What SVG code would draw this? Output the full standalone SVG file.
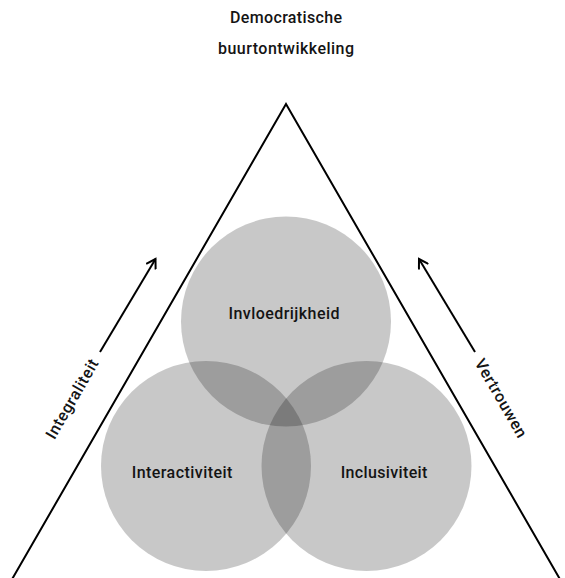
<svg xmlns="http://www.w3.org/2000/svg" width="565" height="578" viewBox="0 0 565 578">
<style>
  .lbl { font-family: Roboto, "Liberation Sans", "DejaVu Sans", sans-serif; font-size: 16px; font-weight: 500; fill: #141414; text-anchor: middle; }
  .circ { fill: #000; fill-opacity: 0.216; }
  .edge { fill: none; stroke: #000; stroke-width: 2; }
</style>
<defs>
  <marker id="arr" viewBox="0 0 12 12" refX="10" refY="6" markerWidth="12" markerHeight="12" markerUnits="userSpaceOnUse" orient="auto">
    <path d="M1,0.5 L10,6 L1,11.5" fill="none" stroke="#000" stroke-width="2"/>
  </marker>
</defs>
<rect width="565" height="578" fill="#fff"/>
<g id="title">
  <text class="lbl" x="286" y="23" textLength="112">Democratische</text>
  <text class="lbl" x="286" y="54" textLength="136">buurtontwikkeling</text>
</g>
<g id="triangle">
  <polygon class="edge" points="286,104 12,579.3 560,579.3"/>
</g>
<g id="node-invloedrijkheid">
  <circle class="circ" cx="286" cy="321.5" r="105"/>
  <text class="lbl" x="284" y="319" textLength="111">Invloedrijkheid</text>
</g>
<g id="node-interactiviteit">
  <circle class="circ" cx="206" cy="466" r="105"/>
  <text class="lbl" x="182" y="478" textLength="100.7">Interactiviteit</text>
</g>
<g id="node-inclusiviteit">
  <circle class="circ" cx="366.5" cy="466" r="105"/>
  <text class="lbl" x="384" y="478" textLength="86.7">Inclusiviteit</text>
</g>
<g id="connectors">
  <line class="edge" x1="100" y1="352" x2="155.5" y2="259" marker-end="url(#arr)"/>
  <line class="edge" x1="475" y1="352" x2="419" y2="259" marker-end="url(#arr)"/>
</g>
<g id="labels">
  <text class="lbl" transform="translate(72,399) rotate(-60)" x="0" y="5.5" textLength="89">Integraliteit</text>
  <text class="lbl" transform="translate(501,398) rotate(60)" x="0" y="5.5" textLength="88">Vertrouwen</text>
</g>
</svg>
